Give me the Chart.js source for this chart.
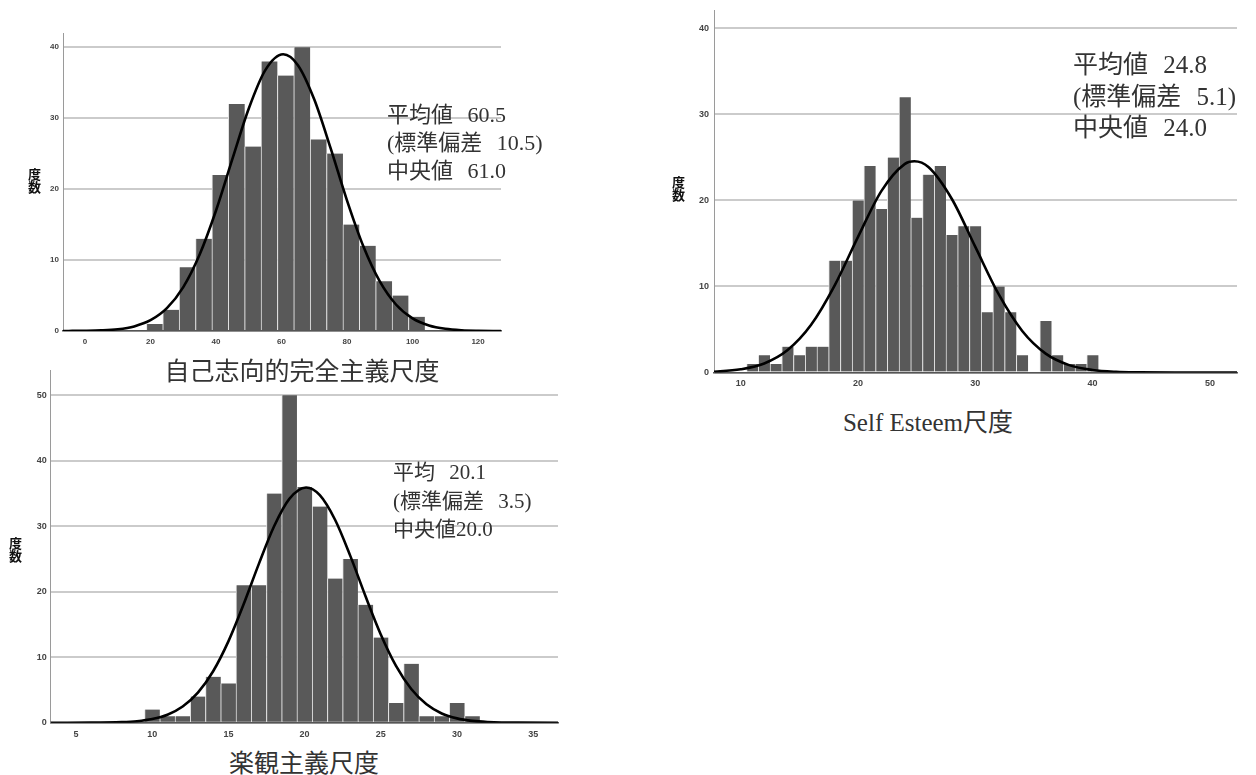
<!DOCTYPE html>
<html lang="ja">
<head>
<meta charset="utf-8">
<script src="https://cdn.jsdelivr.net/npm/chart.js@4.4.1/dist/chart.umd.min.js"></script>
<style>
  html, body { margin: 0; padding: 0; background: #fff; }
  #page { position: relative; width: 1256px; height: 775px; overflow: hidden; background: #fff; }
  #page canvas { position: absolute; }
  .stats { position: absolute; font-family: "Liberation Serif", "Noto Sans CJK JP", serif; color: #333; white-space: pre; }
  .ytitle { position: absolute; font-family: "Noto Sans CJK JP", sans-serif; font-weight: bold; color: #111; text-align: center; font-size: 13px; line-height: 13px; width: 15px; }
  .xtitle { position: absolute; width: 400px; text-align: center; white-space: nowrap; color: #333; }
</style>
</head>
<body>
<div id="page">
  <canvas id="perf" width="520" height="350" style="left:0;top:0"></canvas>
  <canvas id="esteem" width="586" height="392" style="left:670px;top:0"></canvas>
  <canvas id="optim" width="575" height="380" style="left:0;top:360px"></canvas>

  <div class="ytitle" style="left:27px;top:167px">度<br>数</div>
  <div class="ytitle" style="left:671px;top:175px">度<br>数</div>
  <div class="ytitle" style="left:8px;top:536px">度<br>数</div>

  <div class="stats" style="left:387px;top:101px;font-size:22px;line-height:28px;word-spacing:9px">平均値 60.5
(標準偏差 10.5)
中央値 61.0</div>
  <div class="stats" style="left:1073px;top:49px;font-size:25px;line-height:31.5px;word-spacing:9px">平均値 24.8
(標準偏差 5.1)
中央値 24.0</div>
  <div class="stats" style="left:393px;top:458px;font-size:21px;line-height:28.5px;word-spacing:9px">平均 20.1
(標準偏差 3.5)
中央値20.0</div>

  <div class="xtitle" style="left:102px;top:354px;font-size:25px;line-height:30px;font-family:'Noto Sans CJK JP',sans-serif">自己志向的完全主義尺度</div>
  <div class="xtitle" style="left:728px;top:408px;font-size:25px;line-height:30px;font-family:'Liberation Serif','Noto Sans CJK JP',serif">Self Esteem尺度</div>
  <div class="xtitle" style="left:104px;top:746px;font-size:25px;line-height:30px;font-family:'Noto Sans CJK JP',sans-serif">楽観主義尺度</div>
</div>

<script>
// 自己志向的完全主義尺度: bin centres (width 5) and counts
const perfBins   = [21.25, 26.25, 31.25, 36.25, 41.25, 46.25, 51.25, 56.25, 61.25,
                    66.25, 71.25, 76.25, 81.25, 86.25, 91.25, 96.25, 101.25];
const perfCounts = [1, 3, 9, 13, 22, 32, 26, 38, 36, 40, 27, 25, 15, 12, 7, 5, 2];
// fitted normal curve, sampled points
const perfCurveX = [-10, -5, 0, 5, 10, 15, 20, 25, 30, 35, 40, 45, 50, 55, 60.5,
                    65, 70, 75, 80, 85, 90, 95, 100, 105, 110, 115, 120, 130];
const perfCurveY = [0, 0.01, 0.03, 0.09, 0.25, 0.65, 1.52, 3.22, 6.19, 10.78, 16.98,
                    24.25, 31.36, 36.74, 39, 37.47, 32.62, 25.73, 18.38, 11.9, 6.98,
                    3.7, 1.78, 0.78, 0.31, 0.11, 0.04, 0];
const perfXTicks = [0, 20, 40, 60, 80, 100, 120];
const perfYTicks = [0, 10, 20, 30, 40];

// Self Esteem尺度: bin centres (width 1) and counts
const esteemBins   = [11, 12, 13, 14, 15, 16, 17, 18, 19, 20, 21, 22, 23, 24, 25,
                      26, 27, 28, 29, 30, 31, 32, 33, 34, 35, 36, 37, 38, 39, 40];
const esteemCounts = [1, 2, 1, 3, 2, 3, 3, 13, 13, 20, 24, 19, 25, 32, 18,
                      23, 24, 16, 17, 17, 7, 10, 7, 2, 0, 6, 2, 1, 1, 2];
const esteemCurveX = [6, 8, 10, 12, 14, 16, 18, 20, 22, 24, 24.8, 26, 28, 30, 32,
                      34, 36, 38, 40, 42, 44, 47, 50, 54];
const esteemCurveY = [0.01, 0.11, 0.37, 1.05, 2.61, 5.54, 10.1, 15.77, 21.12, 24.26,
                      24.56, 23.89, 20.17, 14.6, 9.07, 4.83, 2.2, 0.86, 0.29, 0.08,
                      0.02, 0, 0, 0];
const esteemXTicks = [10, 20, 30, 40, 50];
const esteemYTicks = [0, 10, 20, 30, 40];

// 楽観主義尺度: bin centres (width 1) and counts
const optimBins   = [10, 11, 12, 13, 14, 15, 16, 17, 18, 19, 20, 21, 22, 23, 24,
                     25, 26, 27, 28, 29, 30, 31];
const optimCounts = [2, 1, 1, 4, 7, 6, 21, 21, 35, 50, 36, 33, 22, 25, 18,
                     13, 3, 9, 1, 1, 3, 1];
const optimCurveX = [2, 4, 6, 8, 9, 10, 11, 12, 13, 14, 15, 16, 17, 18, 19, 20.1,
                     21, 22, 23, 24, 25, 26, 27, 28, 29, 30, 31, 32, 34, 38];
const optimCurveY = [0, 0, 0.01, 0.09, 0.23, 0.56, 1.22, 2.47, 4.59, 7.86, 12.42,
                     18.08, 24.25, 29.99, 34.17, 35.9, 34.73, 30.98, 25.47, 19.3,
                     13.47, 8.67, 5.14, 2.81, 1.41, 0.66, 0.28, 0.11, 0.01, 0];
const optimXTicks = [5, 10, 15, 20, 25, 30, 35];
const optimYTicks = [0, 10, 20, 30, 40, 50];

function histogram(id, o) {
  const tickFont = { family: "'Liberation Sans', Arial, sans-serif", size: o.tickSize, weight: 'bold' };
  return new Chart(document.getElementById(id), {
    type: 'bar',
    data: {
      datasets: [
        {
          type: 'line',
          order: 0,
          data: o.curveX.map((x, i) => ({ x, y: o.curveY[i] })),
          borderColor: '#000',
          borderWidth: 2.6,
          pointRadius: 0,
          fill: false,
          cubicInterpolationMode: 'monotone'
        },
        {
          type: 'bar',
          order: 1,
          data: o.bins.map((x, i) => ({ x, y: o.counts[i] })),
          backgroundColor: '#595959',
          borderColor: '#e4e4e4',
          borderWidth: { left: 1, right: 0, top: 0, bottom: 0 },
          borderSkipped: false,
          barPercentage: 1,
          categoryPercentage: 1
        }
      ]
    },
    options: {
      responsive: false,
      animation: false,
      devicePixelRatio: 1,
      layout: { padding: o.padding },
      plugins: { legend: { display: false }, tooltip: { enabled: false } },
      scales: {
        x: {
          type: 'linear',
          offset: false,
          min: o.xMin,
          max: o.xMax,
          grid: { display: false, drawTicks: false },
          border: { display: true, color: '#555', width: 1.5 },
          ticks: { font: tickFont, color: '#444', padding: o.xPad, maxRotation: 0, autoSkip: false },
          afterBuildTicks: s => { s.ticks = o.xTicks.map(v => ({ value: v })); },
          afterFit: s => { s.height = o.xHeight; }
        },
        y: {
          type: 'linear',
          min: 0,
          max: o.yMax,
          grid: { color: '#cbcbcb', lineWidth: 2, drawTicks: false },
          border: { display: true, color: '#9a9a9a', width: 1 },
          ticks: { font: tickFont, color: '#444', padding: o.yPad, autoSkip: false },
          afterBuildTicks: s => { s.ticks = o.yTicks.map(v => ({ value: v })); },
          afterFit: s => { s.width = o.yWidth; }
        }
      }
    }
  });
}

histogram('perf', {
  bins: perfBins, counts: perfCounts, curveX: perfCurveX, curveY: perfCurveY,
  xTicks: perfXTicks, yTicks: perfYTicks,
  xMin: -6.72, xMax: 127.0, yMax: 42.0,
  padding: { top: 33, right: 19, left: 0, bottom: 0 },
  yWidth: 63, xHeight: 19, tickSize: 8, xPad: 6, yPad: 4
});

histogram('esteem', {
  bins: esteemBins, counts: esteemCounts, curveX: esteemCurveX, curveY: esteemCurveY,
  xTicks: esteemXTicks, yTicks: esteemYTicks,
  xMin: 7.72, xMax: 52.31, yMax: 42.1,
  padding: { top: 7, right: 19, left: 0, bottom: 0 },
  yWidth: 44, xHeight: 19.5, tickSize: 9, xPad: 6, yPad: 5
});

histogram('optim', {
  bins: optimBins, counts: optimCounts, curveX: optimCurveX, curveY: optimCurveY,
  xTicks: optimXTicks, yTicks: optimYTicks,
  xMin: 3.34, xMax: 36.63, yMax: 53.85,
  padding: { top: 10, right: 17, left: 0, bottom: 0 },
  yWidth: 50.7, xHeight: 17.3, tickSize: 9, xPad: 6, yPad: 4
});
</script>
</body>
</html>
